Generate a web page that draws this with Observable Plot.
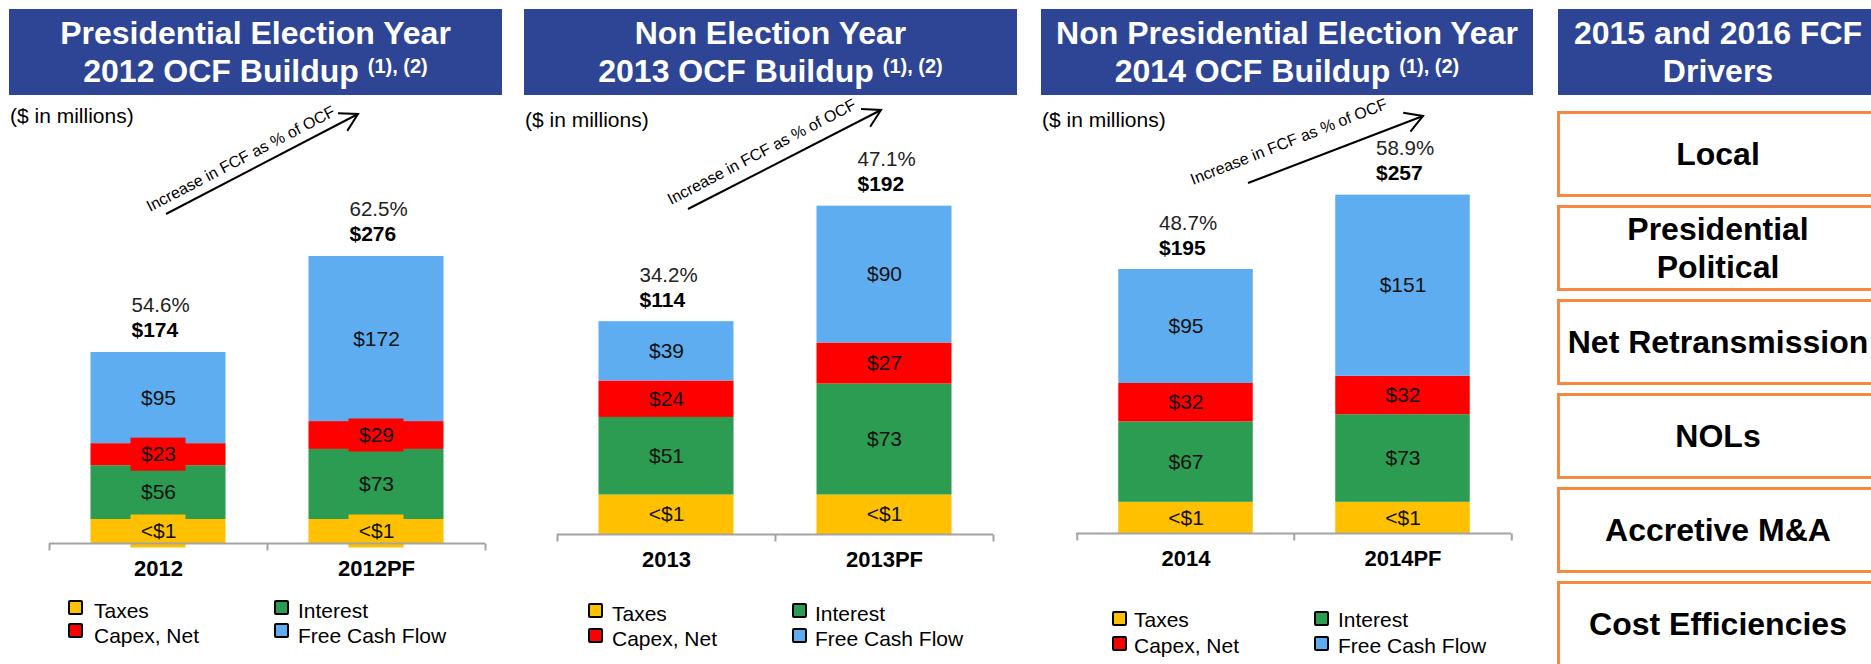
<!DOCTYPE html>
<html><head><meta charset="utf-8">
<script src="https://cdn.jsdelivr.net/npm/d3@7"></script>
<script src="https://cdn.jsdelivr.net/npm/@observablehq/plot@0.6"></script>
<style>
html,body{margin:0;padding:0;background:#fff}
body{width:1871px;height:664px;overflow:hidden;position:relative;font-family:"Liberation Sans",Arial,sans-serif;color:#000}
.banner{position:absolute;top:9px;height:86px;background:#2E4596;color:#fff;font-weight:bold;font-size:32px;line-height:38px;text-align:center;box-sizing:border-box;padding-top:5px;white-space:nowrap}
.banner .sup{font-size:20px;position:relative;top:-9px}
.units{position:absolute;font-size:21px;line-height:21px;white-space:nowrap}
.sw{position:absolute;width:15px;height:15px;box-sizing:border-box;border:2px solid #000;border-radius:2px}
.lt{position:absolute;font-size:21px;line-height:21px;white-space:nowrap}
.drv{position:absolute;left:1557px;width:322px;height:86px;box-sizing:border-box;border:3px solid #F5893F;display:flex;align-items:center;justify-content:center;text-align:center;font-weight:bold;font-size:32px;line-height:38px;white-space:pre}
.plotbox{position:absolute;top:100px}
#overlay{position:absolute;left:0;top:0;pointer-events:none}
</style>
</head><body>
<svg id="overlay" width="1871" height="664"></svg>
<script>
// ---------- data ----------
const series = ["Taxes", "Interest", "Capex, Net", "Free Cash Flow"];
const seriesColors = ["#FFC000", "#2B9C51", "#FF0000", "#5DADF0"];
const panelTitles = [
  ["Presidential Election Year", "2012 OCF Buildup"],
  ["Non Election Year", "2013 OCF Buildup"],
  ["Non Presidential Election Year", "2014 OCF Buildup"]
];
const footnoteMarks = "(1), (2)";
const unitsNote = "($ in millions)";
const arrowNote = "Increase in FCF as % of OCF";
const categories = [["2012", "2012PF"], ["2013", "2013PF"], ["2014", "2014PF"]];
const taxesLabel = "<$1";
const taxesStub = [[25, 25], [26, 26], [26, 26]]; // visual size of the "<$1" segment
const interest = [[56, 73], [51, 73], [67, 73]];
const capex = [[23, 29], [24, 27], [32, 32]];
const fcf = [[95, 172], [39, 90], [95, 151]];
const totals = [[174, 276], [114, 192], [195, 257]];
const fcfPct = [["54.6%", "62.5%"], ["34.2%", "47.1%"], ["48.7%", "58.9%"]];
const driversTitle = ["2015 and 2016 FCF", "Drivers"];
const drivers = ["Local", "Presidential\nPolitical", "Net Retransmission", "NOLs", "Accretive M&A", "Cost Efficiencies"];

// ---------- layout (positions / styles only) ----------
const layout = [
  {left: 9, width: 493, axisLeft: 49, axisRight: 485, axisY: 543, k: 0.96, yMax: 320, boxes: true,
   units: [10, 105], arrow: [166, 214, 358, 114], note: [150, 212, -27.5],
   legend: {sx: [68, 274], tx: [94, 298], sy: [600, 623], ty: [600, 625]}},
  {left: 524, width: 493, axisLeft: 557, axisRight: 993, axisY: 534, k: 1.52, yMax: 260, boxes: false,
   units: [525, 109], arrow: [688, 209, 881, 110], note: [671, 205, -27.5],
   legend: {sx: [588, 792], tx: [612, 815], sy: [603, 628], ty: [603, 628]}},
  {left: 1041, width: 492, axisLeft: 1076, axisRight: 1511, axisY: 533, k: 1.2, yMax: 330, boxes: false,
   units: [1042, 109], arrow: [1248, 183, 1423, 116], note: [1193, 185, -21.5],
   legend: {sx: [1112, 1314], tx: [1134, 1338], sy: [611, 636], ty: [609, 635]}}
];
const plotTop = 100, plotHeight = 495;

const body = document.body;
const overlay = d3.select("#overlay");

const tickSymbol = {draw(ctx) { ctx.moveTo(0, 0); ctx.lineTo(0, 7); }};

layout.forEach((L, p) => {
  // banner
  const b = document.createElement("div");
  b.className = "banner";
  b.style.left = L.left + "px";
  b.style.width = L.width + "px";
  b.innerHTML = `${panelTitles[p][0]}<br>${panelTitles[p][1]} <span class="sup">${footnoteMarks}</span>`;
  body.appendChild(b);

  // units note
  const u = document.createElement("div");
  u.className = "units";
  u.style.left = L.units[0] + "px";
  u.style.top = L.units[1] + "px";
  u.textContent = unitsNote;
  body.appendChild(u);

  // table
  const rows = [], tops = [];
  categories[p].forEach((c, i) => {
    const vals = [taxesStub[p][i], interest[p][i], capex[p][i], fcf[p][i]];
    const labels = [taxesLabel, "$" + interest[p][i], "$" + capex[p][i], "$" + fcf[p][i]];
    let acc = 0;
    vals.forEach((v, j) => {
      rows.push({cat: c, series: series[j], y1: acc, y2: acc + v, mid: acc + v / 2, label: labels[j]});
      acc += v;
    });
    tops.push({cat: c, top: acc, total: "$" + totals[p][i], pct: fcfPct[p][i]});
  });

  const step = (L.axisRight - L.axisLeft) / categories[p].length;
  const barW = 135;
  const inset = (step - barW) / 2;
  const y0 = L.axisY - plotTop;

  const chart = Plot.plot({
    width: L.width,
    height: plotHeight,
    marginLeft: L.axisLeft - L.left,
    marginRight: L.left + L.width - L.axisRight,
    marginTop: 0,
    marginBottom: plotTop + plotHeight - L.axisY,
    style: {fontFamily: '"Liberation Sans", Arial, sans-serif', background: "transparent", overflow: "visible", color: "#000"},
    x: {domain: categories[p], padding: 0, axis: null},
    y: {domain: [0, L.yMax], range: [y0, y0 - L.yMax * L.k], axis: null},
    color: {domain: series, range: seriesColors},
    marks: [
      Plot.barY(rows, {x: "cat", y1: "y1", y2: "y2", fill: "series", insetLeft: inset, insetRight: inset}),
      L.boxes ? Plot.barY(rows.filter(r => r.series === "Taxes" || r.series === "Capex, Net"),
        {x: "cat", y1: "mid", y2: "mid", fill: "series", insetLeft: inset + 40, insetRight: inset + 40, insetTop: -16.5, insetBottom: -16.5}) : null,
      Plot.ruleY([0], {stroke: "#a3a3a3", strokeWidth: 2}),
      Plot.dot(categories[p], {x: d => d, y: () => 0, dx: -step / 2, symbol: tickSymbol, stroke: "#a3a3a3", strokeWidth: 2, fill: "none"}),
      Plot.dot(categories[p].slice(-1), {x: d => d, y: () => 0, dx: step / 2, symbol: tickSymbol, stroke: "#a3a3a3", strokeWidth: 2, fill: "none"}),
      Plot.text(rows, {x: "cat", y: "mid", text: "label", fontSize: 21, fill: "#111"}),
      Plot.text(tops, {x: "cat", y: "top", text: "total", fontSize: 21, fontWeight: "bold", textAnchor: "start", lineAnchor: "bottom", dx: -27, dy: -15}),
      Plot.text(tops, {x: "cat", y: "top", text: "pct", fontSize: 20.5, textAnchor: "start", lineAnchor: "bottom", dx: -27, dy: -40, fill: "#222"}),
      Plot.axisX({tickSize: 0, tickPadding: 17, fontSize: 22, fontWeight: "bold", label: null})
    ]
  });
  const wrap = document.createElement("div");
  wrap.className = "plotbox";
  wrap.style.left = L.left + "px";
  wrap.appendChild(chart);
  body.appendChild(wrap);

  // legend
  const order = [[0, 0, 0], [1, 1, 0], [2, 0, 1], [3, 1, 1]]; // [seriesIndex, col, row]
  order.forEach(([s, col, row]) => {
    const sw = document.createElement("div");
    sw.className = "sw";
    sw.style.left = L.legend.sx[col] + "px";
    sw.style.top = L.legend.sy[row] + "px";
    sw.style.background = seriesColors[s];
    body.appendChild(sw);
    const t = document.createElement("div");
    t.className = "lt";
    t.style.left = L.legend.tx[col] + "px";
    t.style.top = L.legend.ty[row] + "px";
    t.textContent = series[s];
    body.appendChild(t);
  });

  // arrow annotation
  const [x1, y1, x2, y2] = L.arrow;
  const ang = Math.atan2(y1 - y2, x1 - x2);
  const arm = 20, spread = Math.PI / 6;
  const g = overlay.append("g").attr("stroke", "#000").attr("stroke-width", 2).attr("fill", "none");
  g.append("line").attr("x1", x1).attr("y1", y1).attr("x2", x2).attr("y2", y2);
  g.append("path").attr("d",
    `M${x2 + arm * Math.cos(ang + spread)},${y2 + arm * Math.sin(ang + spread)}L${x2},${y2}L${x2 + arm * Math.cos(ang - spread)},${y2 + arm * Math.sin(ang - spread)}`);
  overlay.append("text")
    .attr("transform", `translate(${L.note[0]},${L.note[1]}) rotate(${L.note[2]})`)
    .attr("font-size", 16)
    .attr("font-family", '"Liberation Sans", Arial, sans-serif')
    .text(arrowNote);
});

// drivers column
const db = document.createElement("div");
db.className = "banner";
db.style.left = "1558px";
db.style.width = "320px";
db.innerHTML = driversTitle.join("<br>");
body.appendChild(db);
drivers.forEach((d, i) => {
  const el = document.createElement("div");
  el.className = "drv";
  el.style.top = (111 + i * 94) + "px";
  el.textContent = d;
  body.appendChild(el);
});
</script>
</body></html>
